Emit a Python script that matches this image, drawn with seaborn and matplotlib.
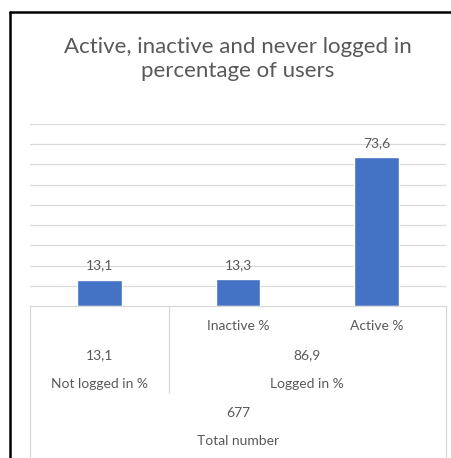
import numpy as np
import matplotlib.pyplot as plt
import seaborn as sns
import pandas as pd
from matplotlib.lines import Line2D
from matplotlib.transforms import blended_transform_factory

# values
categories = ["Not logged in %", "Inactive %", "Active %"]
values = [13.1, 13.3, 73.6]
level1_labels = ["", "Inactive %", "Active %"]
group_labels = ["Not logged in %", "Logged in %"]
group_values = [13.1, 86.9]
total_label = "Total number"
total_value = 677

sns.set_theme(style="white")
plt.rcParams['font.family'] = ['Lato', 'DejaVu Sans']

txt = "#595959"
grid = "#D9D9D9"
bar_col = "#4472C4"
fs = 10

def komma(v):
    # Excel style decimal comma
    return f"{v:.1f}".replace(".", ",")

fig = plt.figure(figsize=(4.52, 4.58), dpi=100)
W, H = 452, 458
def fy(py):
    return 1 - py / H

ax = fig.add_axes([30 / W, fy(306), 416 / W, (306 - 124) / H])

df = pd.DataFrame({"kategori": categories, "deger": values})
sns.barplot(data=df, x="kategori", y="deger", color=bar_col, saturation=1,
            width=0.32, ax=ax)

ax.set_xlim(-0.5, 2.5)
ax.set_ylim(0, 90)
ax.set_yticks(np.arange(10, 91, 10))
ax.yaxis.grid(True, color=grid, linewidth=0.9)
ax.set_axisbelow(True)
ax.tick_params(left=False, bottom=False, labelleft=False, labelbottom=False)
ax.set_xlabel("")
ax.set_ylabel("")
for s in ["left", "right", "top"]:
    ax.spines[s].set_visible(False)
ax.spines["bottom"].set_color(grid)
ax.spines["bottom"].set_linewidth(0.9)

ax.bar_label(ax.containers[0], labels=[komma(v) for v in values],
             padding=6, color=txt, fontsize=fs)

# cok seviyeli kategori ekseni
tr = blended_transform_factory(ax.transData, fig.transFigure)
for xv, ybot in [(-0.5, 0), (0.5, 393), (2.5, 0)]:
    y2 = 0 if ybot == 0 else fy(ybot)
    ax.add_line(Line2D([xv, xv], [fy(306), y2], transform=tr, color=grid,
                       linewidth=0.9, clip_on=False))

for i, lab in enumerate(level1_labels):
    if lab:
        ax.text(i, fy(326), lab, transform=tr, ha="center", va="center",
                color=txt, fontsize=fs)

group_x = [0, 1.5]
for gx, gv, gl in zip(group_x, group_values, group_labels):
    ax.text(gx, fy(355), komma(gv), transform=tr, ha="center", va="center",
            color=txt, fontsize=fs)
    ax.text(gx, fy(384), gl, transform=tr, ha="center", va="center",
            color=txt, fontsize=fs)

ax.text(1, fy(413), str(total_value), transform=tr, ha="center", va="center",
        color=txt, fontsize=fs)
ax.text(1, fy(441), total_label, transform=tr, ha="center", va="center",
        color=txt, fontsize=fs)

fig.text(238 / W, fy(59), "Active, inactive and never logged in\npercentage of users",
         ha="center", va="center", color=txt, fontsize=16, linespacing=1.3)

# grafik cercevesi (kirpilmis)
fig.add_artist(Line2D([10 / W, 10 / W], [fy(12), 0], transform=fig.transFigure,
                      color="black", linewidth=1.8))
fig.add_artist(Line2D([10 / W, 1], [fy(12), fy(12)], transform=fig.transFigure,
                      color="black", linewidth=1.8))

fig.savefig("out.png", dpi=100)
